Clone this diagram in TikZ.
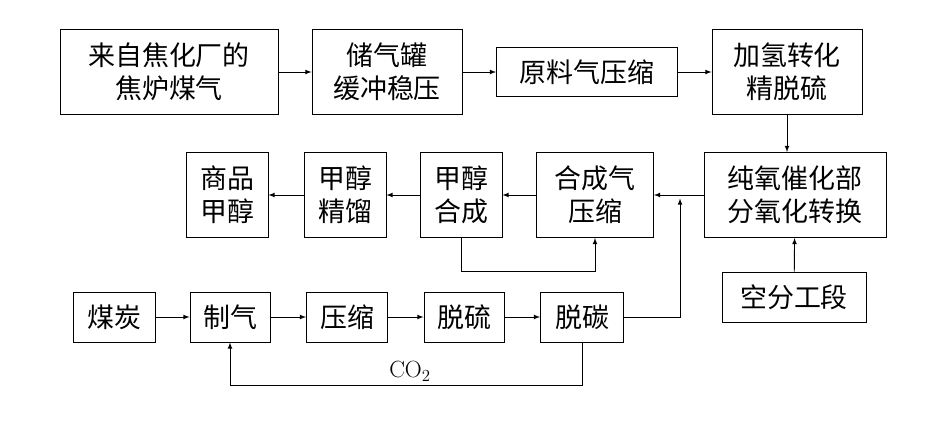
\documentclass[tikz,border=0pt]{standalone}
\usepackage{fontspec}
\newfontfamily\cjk{Noto Sans CJK SC}
\usetikzlibrary{positioning}
\tikzset{
  blk/.style={draw,thick,align=center,font=\cjk\fontsize{23}{28}\selectfont,inner sep=0pt},
  arr/.style={->,thick,>=latex}
}
\begin{document}
\begin{tikzpicture}[x=0.03cm,y=-0.03cm]
\useasboundingbox (0,0) rectangle (945,425);
% Top row
\node[blk,minimum width=218*0.03cm,minimum height=85*0.03cm] (coke) at (169,72) {来自焦化厂的\\焦炉煤气};
\node[blk,minimum width=150*0.03cm,minimum height=85*0.03cm] (tank) at (387,72) {储气罐\\缓冲稳压};
\node[blk,minimum width=181*0.03cm,minimum height=49*0.03cm] (comp1) at (587,72) {原料气压缩};
\node[blk,minimum width=150*0.03cm,minimum height=85*0.03cm] (hydro) at (787,72) {加氢转化\\精脱硫};
% Second row
\node[blk,minimum width=182*0.03cm,minimum height=85*0.03cm] (oxy) at (795,195) {纯氧催化部\\分氧化转换};
\node[blk,minimum width=117*0.03cm,minimum height=85*0.03cm] (comp2) at (595,195) {合成气\\压缩};
\node[blk,minimum width=82*0.03cm,minimum height=85*0.03cm] (synth) at (461,195) {甲醇\\合成};
\node[blk,minimum width=82*0.03cm,minimum height=85*0.03cm] (dist) at (345,195) {甲醇\\精馏};
\node[blk,minimum width=82*0.03cm,minimum height=85*0.03cm] (prod) at (227,195) {商品\\甲醇};
\node[blk,minimum width=144*0.03cm,minimum height=50*0.03cm] (air) at (794,297) {空分工段};
% Coal row
\node[blk,minimum width=82*0.03cm,minimum height=50*0.03cm] (coal) at (114,317) {煤炭};
\node[blk,minimum width=80*0.03cm,minimum height=50*0.03cm] (gas) at (230,317) {制气};
\node[blk,minimum width=81*0.03cm,minimum height=50*0.03cm] (comp3) at (347,317) {压缩};
\node[blk,minimum width=80*0.03cm,minimum height=50*0.03cm] (desul) at (464,317) {脱硫};
\node[blk,minimum width=83*0.03cm,minimum height=50*0.03cm] (decarb) at (582,317) {脱碳};
\coordinate (join) at (680,195);
\node[font=\fontsize{20}{24}\selectfont] (co2) at (410,371) {CO$_2$};
% Connectors
\draw[arr] (coke) -- (tank);
\draw[arr] (tank) -- (comp1);
\draw[arr] (comp1) -- (hydro);
\draw[arr] (hydro.south) -- (hydro.south|-oxy.north);
\draw[arr] (air) -- (oxy);
\draw[arr] (oxy) -- (comp2);
\draw[arr] (comp2) -- (synth);
\draw[arr] (synth) -- (dist);
\draw[arr] (dist) -- (prod);
\draw[arr] (synth.south) -- ++(0,33) -| (comp2.south);
\draw[arr] (coal) -- (gas);
\draw[arr] (gas) -- (comp3);
\draw[arr] (comp3) -- (desul);
\draw[arr] (desul) -- (decarb);
\draw[arr] (decarb.east) -| ([yshift=-3]join);
\draw[arr] (decarb.south) -- ++(0,43) -| (gas.south);
\end{tikzpicture}
\end{document}
